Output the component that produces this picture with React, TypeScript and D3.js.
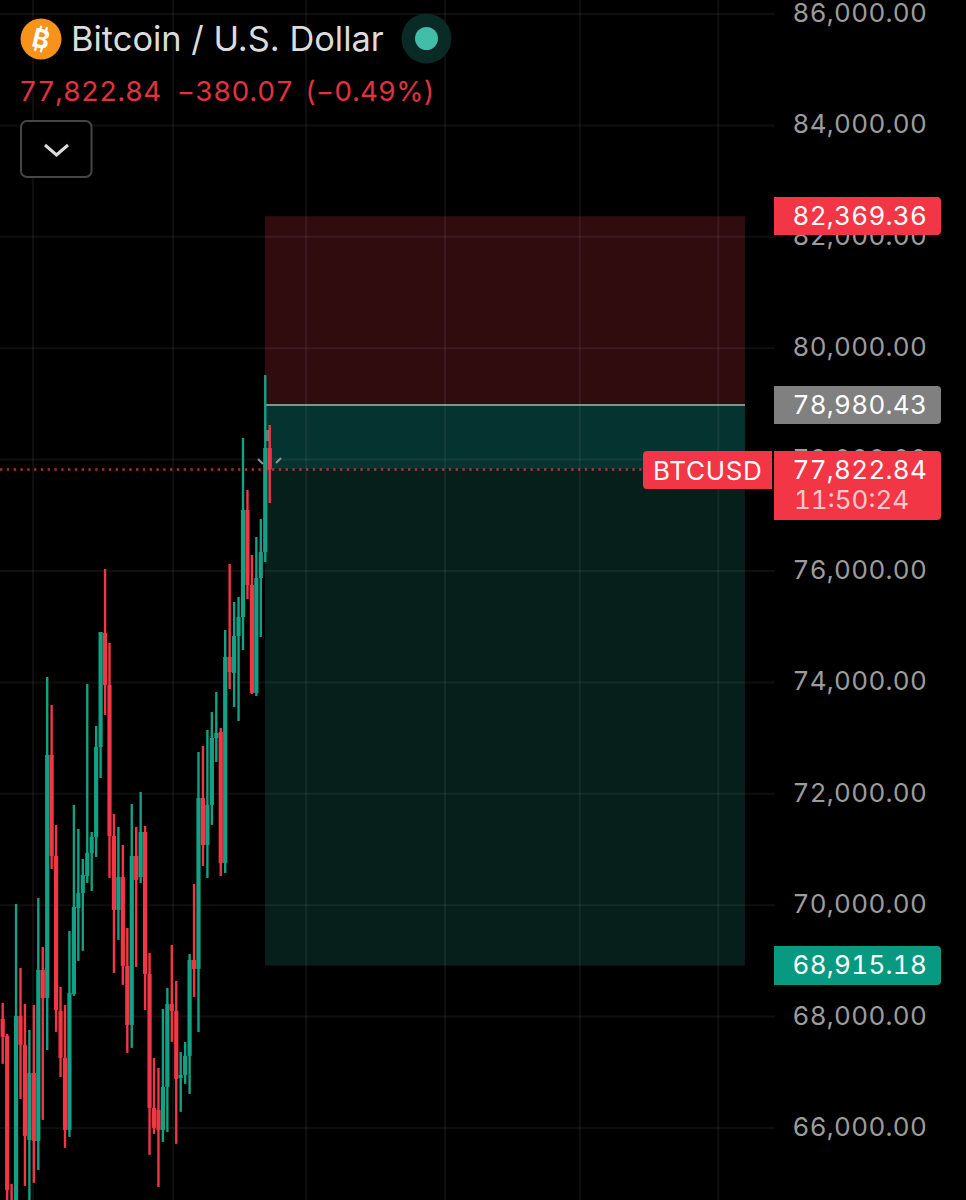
import React from "react";
import * as d3 from "d3";

const FONT = "Inter, Roboto, sans-serif";
const priceTicks = [86000, 84000, 82000, 80000, 78000, 76000, 74000, 72000, 70000, 68000, 66000];
const timeGridIndex = [6.8, 38.3, 68.2, 99.4, 129.7, 160.8];

const opens = [67958,67653,64638,64530,68012,67492,65786,66989,65768,68838,68335,72697,70884,68102,67258,65966,68407,69951,70220,70525,70938,71225,72841,74887,73954,71243,69915,70507,68910,67851,70884,70507,71315,68766,66361,66325,65966,66738,68228,68102,66899,66953,67294,69017,68856,71925,71082,71800,73002,73110,70759,74456,74169,74833,75174,77095,75749,73810,75874,76341,78208];
const highs = [68246,67689,64997,70023,68874,68228,67761,68210,70130,69251,74097,73595,71441,68533,68210,69538,71800,71369,70830,73972,71315,73218,74905,76036,74708,71638,71405,71082,69592,71818,71405,72033,71423,69143,67258,67079,68138,68515,69287,68640,67366,67546,69125,70382,72751,72859,73146,73469,73828,73182,74941,76126,75444,75533,78387,77454,76287,76610,76933,79518,78621];
const lows = [67151,64530,64171,64171,66522,64961,64620,65015,65248,66145,67402,70651,67725,66917,65643,65840,68371,69000,69179,70400,70256,70866,72284,73415,70489,68784,69376,68569,67348,67438,68892,70400,68120,65517,65894,64943,65750,65930,67546,65715,66289,66792,66612,68353,67725,70705,70489,71441,72572,70525,70579,73882,73559,73307,74582,75497,73792,73756,74815,76162,77221];
const closes = [67635,64889,64440,68012,67492,65858,66989,65768,68838,68335,72697,70884,68120,67258,65966,68425,69969,70220,70543,70938,71225,72841,74905,73954,71243,69915,70507,68910,67851,70884,70453,71315,68766,66361,66002,65966,66738,68228,68102,66881,66953,67294,69017,68856,71925,71082,71800,73002,73092,70759,74456,74187,74833,75174,77095,75749,73810,75874,76341,78208,77822.84];

const stopPrice = 82369.36;
const entryPrice = 78980.43;
const targetPrice = 68915.18;
const lastPrice = 77822.84;
const zoneStart = 58.94;
const zoneEnd = 166.8;

const y = d3.scaleLinear().domain([66000, 76000]).range([1128, 571]);
const x = d3.scaleLinear().domain([0, 60]).range([2.7, 269.7]);
const money = d3.format(",.2f");

const UP = "#12a184";
const DOWN = "#f23645";
const TAB = { fontFeatureSettings: '"tnum"' };

function PriceTag({ yPos, h, fill, label, sub }: { yPos: number; h: number; fill: string; label: string; sub?: string }) {
  const r = 4;
  const x0 = 774, x1 = 941;
  const path = `M${x0},${yPos}H${x1 - r}a${r},${r} 0 0 1 ${r},${r}V${yPos + h - r}a${r},${r} 0 0 1 ${-r},${r}H${x0}Z`;
  return (
    <g>
      <path d={path} fill={fill} />
      <text x={792.5} y={yPos + 28} fontSize={26} fill="#fff" letterSpacing={0.3} style={TAB}>{label}</text>
      {sub && <text x={794} y={yPos + 58} fontSize={26} fill="#ffc9ce" letterSpacing={0} style={TAB}>{sub}</text>}
    </g>
  );
}

export default function App() {
  const zx0 = x(zoneStart), zx1 = x(zoneEnd);
  return (
    <svg width={966} height={1200} style={{ position: "absolute", left: 0, top: 0, background: "#000", fontFamily: FONT }}>
      <rect width={966} height={1200} fill="#000" />

      {/* position zones */}
      <rect x={zx0} width={zx1 - zx0} y={y(stopPrice)} height={y(entryPrice) - y(stopPrice)} fill="#300c0f" />
      <rect x={zx0} width={zx1 - zx0} y={y(entryPrice)} height={y(lastPrice) - y(entryPrice)} fill="#05332f" />
      <rect x={zx0} width={zx1 - zx0} y={y(lastPrice)} height={y(targetPrice) - y(lastPrice)} fill="#061f1b" />
      <line x1={zx0} x2={zx1} y1={y(entryPrice)} y2={y(entryPrice)} stroke="#8a8f8e" strokeWidth={2} />

      {/* grid */}
      {priceTicks.map((t) => (
        <line key={t} x1={0} x2={zx1 + 30} y1={y(t)} y2={y(t)} stroke="#fff" strokeOpacity={0.06} strokeWidth={2} />
      ))}
      {timeGridIndex.map((t) => (
        <line key={t} x1={x(t)} x2={x(t)} y1={0} y2={1200} stroke="#fff" strokeOpacity={0.06} strokeWidth={2} />
      ))}

      {/* candles */}
      {opens.map((o, i) => {
        const c = closes[i];
        const col = c >= o ? UP : DOWN;
        const top = y(Math.max(o, c));
        const bot = y(Math.min(o, c));
        return (
          <g key={i}>
            <line x1={x(i)} x2={x(i)} y1={y(highs[i])} y2={y(lows[i])} stroke={col} strokeWidth={2.4} />
            <rect x={x(i) - 2.1} width={4.2} y={top} height={Math.max(bot - top, 1)} fill={col} />
          </g>
        );
      })}

      {/* cursor marks */}
      <path d="M258,459L263,464M281,458L276,463" stroke="#8d9391" strokeWidth={2} fill="none" />
      <rect x={266} y={430} width={3} height={11} fill="#8d9391" fillOpacity={0.7} />

      {/* last price line */}
      <line x1={0} x2={645} y1={y(lastPrice)} y2={y(lastPrice)} stroke={DOWN} strokeOpacity={0.75} strokeWidth={2.4} strokeDasharray="2.4 4.4" />

      {/* axis labels */}
      {priceTicks.map((t) => (
        <text key={t} x={792.5} y={y(t) + 8} fontSize={26} fill="#9c9c9c" letterSpacing={0.3} style={TAB}>{money(t)}</text>
      ))}

      {/* price tags */}
      <PriceTag yPos={197} h={38} fill={DOWN} label={money(stopPrice)} />
      <PriceTag yPos={386} h={38} fill="#808080" label={money(entryPrice)} />
      <PriceTag yPos={946} h={39} fill="#089981" label={money(targetPrice)} />
      <PriceTag yPos={451} h={69} fill={DOWN} label={money(lastPrice)} sub="11:50:24" />
      <path d="M772,451V489H647a4,4 0 0 1 -4,-4V455a4,4 0 0 1 4,-4Z" fill={DOWN} />
      <text x={653} y={480} fontSize={26} fill="#fff" letterSpacing={0.7}>BTCUSD</text>

      {/* header */}
      <circle cx={41} cy={39} r={20.5} fill="#f7931a" />
      <g transform="rotate(14 41 39)">
        <text x={41} y={48} fontSize={26} fontWeight={700} fill="#fff" textAnchor="middle">B</text>
        <path d="M38,26V31M44,26V31M38,47V52M44,47V52" stroke="#fff" strokeWidth={2.2} />
      </g>
      <text x={71} y={51} fontSize={34.4} fill="#dcdcdc">Bitcoin / U.S. Dollar</text>
      <circle cx={426.5} cy={38.5} r={25} fill="#0a2a26" />
      <circle cx={426.5} cy={38.5} r={11.5} fill="#42bda8" />
      <text fontSize={27.7} y={101} fill="#e2323f" letterSpacing={0.2} style={TAB}>
        <tspan x={19}>77,822.84</tspan>
        <tspan x={177}>−380.07</tspan>
        <tspan x={305}>(−0.49%)</tspan>
      </text>
      <rect x={21} y={121} width={70.5} height={56} rx={6} fill="#000" stroke="#464646" strokeWidth={2} />
      <path d="M45,145L56.5,155L68,145" fill="none" stroke="#dcdcdc" strokeWidth={3} />
    </svg>
  );
}
